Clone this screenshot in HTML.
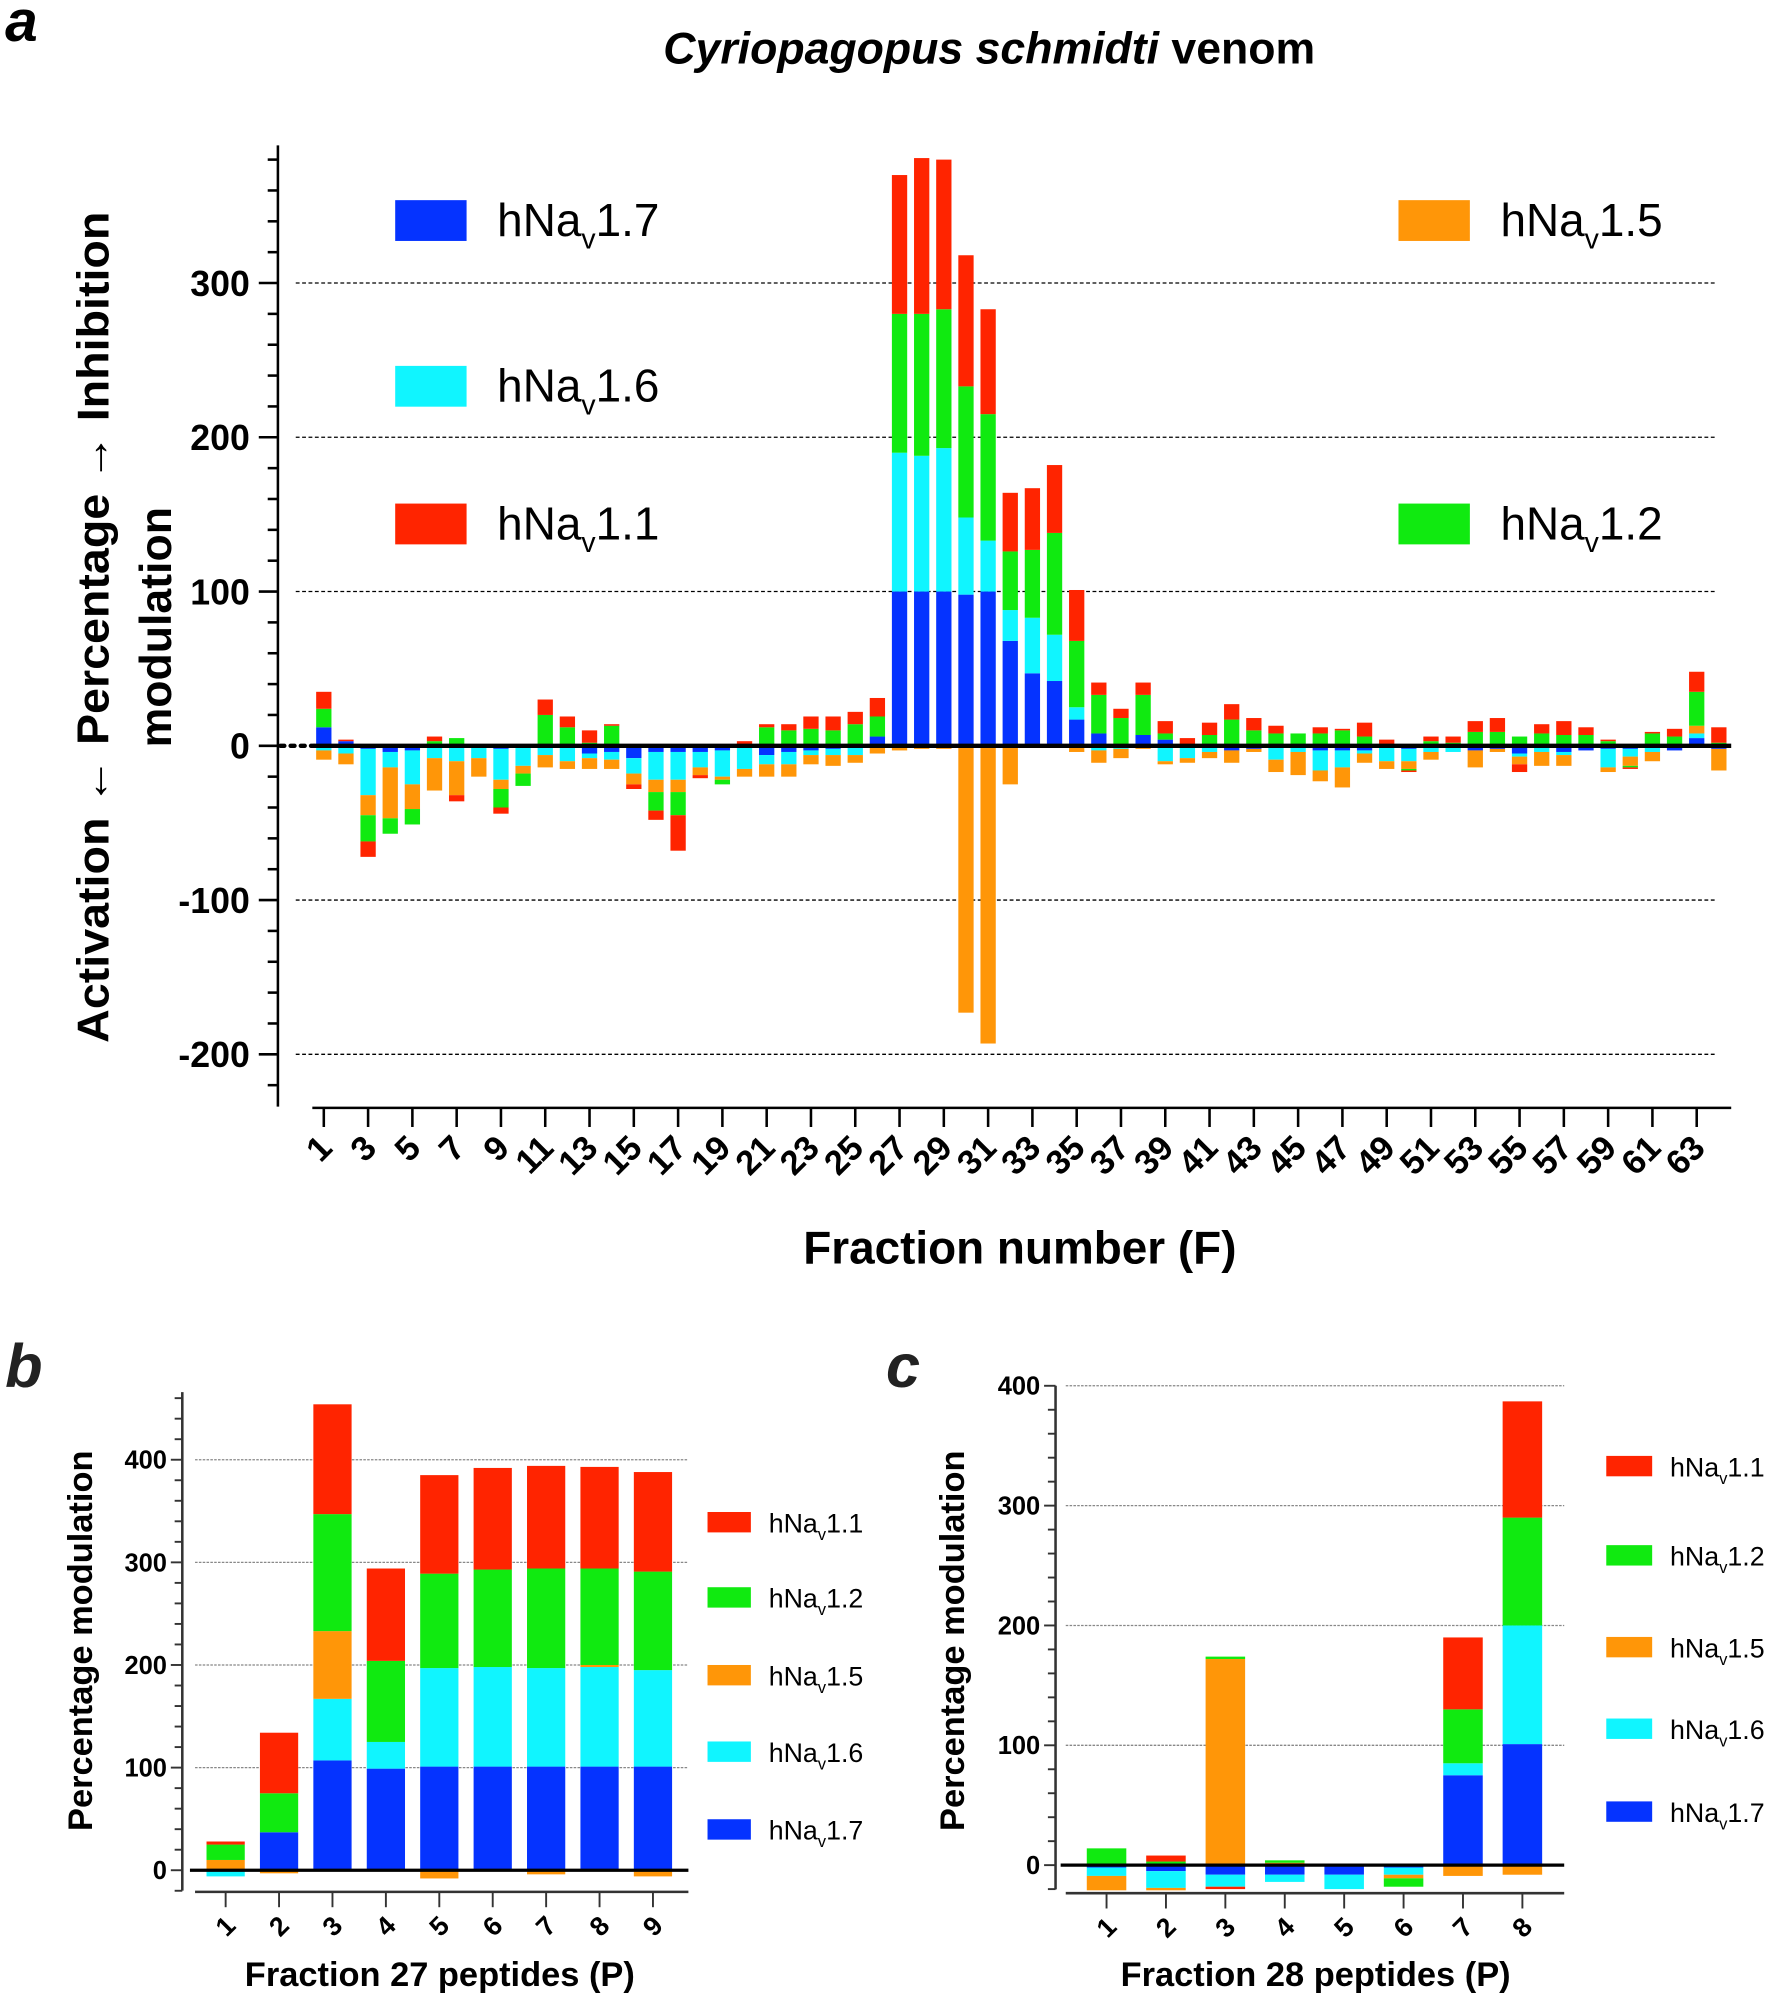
<!DOCTYPE html>
<html><head><meta charset="utf-8"><style>
html,body{margin:0;padding:0;background:#fff;}
svg{display:block;}
text{font-family:"Liberation Sans",Arial,sans-serif;}
</style></head>
<body>
<svg id="fig" width="1772" height="1999" viewBox="0 0 1390 1568" preserveAspectRatio="none" xmlns="http://www.w3.org/2000/svg">
<g id="pa"></g>
<g id="pb"></g>
<g id="pc"></g>
</svg>
<script>
// ---------- data ----------
const seriesNames = ["hNav1.7","hNav1.6","hNav1.5","hNav1.2","hNav1.1"];
const seriesColors = ["#0533ff","#10f5ff","#ff9608","#10ea10","#ff2400"];
// Panel a: fractions 1..64
const fractionsA = Array.from({length:64},(_,i)=>i+1);
const a17 = [12,3,-2,-4,-3,0,0,0,-2,0,0,0,-5,-4,-8,-4,-4,-4,-3,0,-6,-4,-3,-2,0,6,100,100,100,98,100,68,47,42,17,8,1,7,4,1,-1,-3,-2,0,-1,-3,-3,-3,0,-2,0,0,-3,-2,-5,0,-4,-3,-2,-2,0,-3,5,-2];
const a16 = [-3,-5,-30,-10,-22,-8,-10,-8,-20,-13,-6,-10,-3,-5,-10,-18,-18,-10,-17,-15,-6,-8,-3,-4,-6,-1,90,88,93,50,33,20,36,30,8,-3,-2,0,-10,-8,-3,0,0,-9,-3,-13,-11,-2,-10,-8,-4,-4,0,0,-2,-4,-2,0,-12,-5,-4,0,3,0];
const a15 = [-6,-7,-13,-33,-16,-21,-22,-12,-6,-5,-8,-5,-7,-6,-7,-8,-8,-5,-2,-5,-8,-8,-6,-7,-5,-4,-3,-2,-2,-173,-193,-25,0,0,-4,-8,-6,-2,-2,-3,-4,-8,-2,-8,-15,-7,-13,-6,-5,-5,-5,0,-11,-2,-5,-9,-7,0,-3,-6,-6,0,5,-14];
const a12 = [12,0,-17,-10,-10,3,5,0,-12,-8,20,12,2,13,0,-12,-15,0,-3,1,12,10,11,10,14,13,90,92,90,85,82,38,44,66,43,25,17,26,4,0,7,17,10,8,8,8,10,6,0,-1,3,2,9,9,6,8,7,7,3,-1,8,6,22,2];
const a11 = [11,1,-10,0,1,3,-4,0,-4,0,10,7,8,1,-3,-6,-23,-2,0,2,2,4,8,9,8,12,90,101,97,85,68,38,40,44,33,8,6,8,8,4,8,10,8,5,0,4,1,9,4,-1,3,4,7,9,-5,6,9,5,1,-1,1,5,13,10];
// Panel b: fraction 27 peptides
const catsB = ["1","2","3","4","5","6","7","8","9"];
const b17 = [0,37,107,99,101,101,101,101,101];
const b16 = [-6,0,60,26,96,97,96,97,94];
const b15 = [10,-3,66,0,-8,0,-4,2,-6];
const b12 = [15,38,114,79,92,95,97,94,96];
const b11 = [3,59,107,90,96,99,100,99,97];
// Panel c: fraction 28 peptides
const catsC = ["1","2","3","4","5","6","7","8"];
const c17 = [-2,-5,-8,-8,-8,-2,75,101];
const c16 = [-7,-14,-10,-6,-12,-6,10,99];
const c15 = [-12,-2,172,2,0,-3,-9,-8];
const c12 = [14,3,2,2,0,-7,45,90];
const c11 = [0,5,-2,0,0,0,60,97];
// ticks
const ticksA = [-200,-100,0,100,200,300];
const ticksBC = [0,100,200,300,400];

const NS="http://www.w3.org/2000/svg";
function el(parent,tag,attrs,txt){const e=document.createElementNS(NS,tag);for(const k in attrs)e.setAttribute(k,attrs[k]);if(txt!==undefined)e.textContent=txt;parent.appendChild(e);return e;}
function navLabel(parent,x,y,size,name,weight){
  const t=el(parent,"text",{x:x,y:y,"font-size":size,"font-weight":weight||"normal",fill:"#000"});
  const v=name.replace("hNav","");
  el(t,"tspan",{},"hNa");
  el(t,"tspan",{"font-size":size*0.62,dy:size*0.28},"v");
  el(t,"tspan",{dy:-size*0.28},v);
  return t;
}
function stackBars(g,cats,series,xf,yf,w,nm){
  cats.forEach((c,i)=>{
    let pos=0,neg=0;
    series.forEach((s,k)=>{
      const v=s[i]; if(!v) return;
      let y0,y1;
      if(v>0){y0=pos;y1=pos+v;pos=y1;} else {y0=neg;y1=neg+v;neg=y1;}
      const r=el(g,"rect",{x:xf(i)-w/2,y:Math.min(yf(y0),yf(y1)),width:w,height:Math.abs(yf(y0)-yf(y1)),fill:seriesColors[k]});
      
      
    });
  });
}

// ---------- Panel a ----------
(function(){
  const g=document.getElementById("pa");
  const y0=585, k=1.21;
  const yA=v=>y0-v*k;
  const xA=i=>254+i*17.37;
  el(g,"text",{x:4,y:32,"font-size":46,"font-weight":"bold","font-style":"italic",},"a");
  const t=el(g,"text",{x:776,y:50,"font-size":35,"font-weight":"bold","text-anchor":"middle",});
  el(t,"tspan",{"font-style":"italic"},"Cyriopagopus schmidti");
  el(t,"tspan",{}," venom");
  // gridlines
  [300,200,100,-100,-200].forEach(v=>{
    const l=el(g,"line",{x1:232,x2:1346,y1:yA(v),y2:yA(v),stroke:"#000","stroke-width":1,"stroke-dasharray":"3,2"});
    
    
  });
  const bars=el(g,"g",{});
  stackBars(bars,fractionsA,[a17,a16,a15,a12,a11],xA,yA,12,"a");
  // zero line
  el(g,"line",{x1:246,x2:1358,y1:y0,y2:y0,stroke:"#000","stroke-width":3.5,});
  el(g,"line",{x1:220,x2:246,y1:y0,y2:y0,stroke:"#000","stroke-width":3.5,"stroke-dasharray":"3,5","stroke-linecap":"round",});
  // y axis
  el(g,"line",{x1:218,x2:218,y1:114,y2:868,stroke:"#000","stroke-width":2,});
  for(let v=-220;v<=380;v+=20){
    const major=v%100===0;
    el(g,"line",{x1:major?203:210,x2:218,y1:yA(v),y2:yA(v),stroke:"#000","stroke-width":2});
  }
  ticksA.forEach(v=>{
    const tl=el(g,"text",{x:196,y:yA(v)+10,"font-size":28,"font-weight":"bold","text-anchor":"end"},String(v));
    
    
  });
  // x axis
  el(g,"line",{x1:245,x2:1358,y1:869,y2:869,stroke:"#000","stroke-width":2,});
  fractionsA.forEach((f,i)=>{
    if(f%2===0) return;
    el(g,"line",{x1:xA(i),x2:xA(i),y1:869,y2:884,stroke:"#000","stroke-width":2});
    const tl=el(g,"text",{x:xA(i)+8,y:902,"font-size":27,"font-weight":"bold","text-anchor":"end",transform:`rotate(-45 ${xA(i)+8} 902)`},String(f));
    
    
  });
  el(g,"text",{x:800,y:991,"font-size":36,"font-weight":"bold","text-anchor":"middle",},"Fraction number (F)");
  el(g,"text",{x:0,y:0,"font-size":35,"font-weight":"bold","text-anchor":"middle",transform:"translate(85 492) rotate(-90)",textLength:652,lengthAdjust:"spacingAndGlyphs",},"Activation \u2190 Percentage \u2192 Inhibition");
  el(g,"text",{x:0,y:0,"font-size":35,"font-weight":"bold","text-anchor":"middle",transform:"translate(134 492) rotate(-90)",},"modulation");
  // legend
  const leg=[[0,310,157],[1,310,287],[4,310,395],[2,1097,157],[3,1097,395]];
  leg.forEach(([s,x,y])=>{
    const lg=el(g,"g",{});
    
    
    el(lg,"rect",{x:x,y:y,width:56,height:32,fill:seriesColors[s]});
    navLabel(lg,x+80,y+28,36,seriesNames[s]);
  });
})();

// ---------- Panels b & c ----------
function smallPanel(id,cfg){
  const g=document.getElementById(id);
  const yf=v=>cfg.y0-v*cfg.k;
  const xf=i=>cfg.x0+i*cfg.step;
  el(g,"text",{x:cfg.letterX,y:1088,"font-size":48,"font-weight":"bold","font-style":"italic","fill":"#222",},cfg.letter);
  ticksBC.slice(1).forEach(v=>{
    const l=el(g,"line",{x1:cfg.gx1,x2:cfg.gx2,y1:yf(v),y2:yf(v),stroke:"#888","stroke-width":1,"stroke-dasharray":"2,1"});
    
    
  });
  const bars=el(g,"g",{});
  stackBars(bars,cfg.cats,cfg.series,xf,yf,cfg.bw,cfg.letter);
  el(g,"line",{x1:cfg.gx1-4,x2:cfg.gx2,y1:cfg.y0,y2:cfg.y0,stroke:"#000","stroke-width":2.5});
  el(g,"line",{x1:cfg.ax,x2:cfg.ax,y1:cfg.yTop,y2:cfg.yBot,stroke:"#333","stroke-width":2,});
  for(let v=-20;v<=cfg.vmax;v+=20){
    const major=v%100===0;
    el(g,"line",{x1:cfg.ax-(major?9:6),x2:cfg.ax,y1:yf(v),y2:yf(v),stroke:"#333","stroke-width":1.5});
  }
  ticksBC.forEach(v=>{
    const tl=el(g,"text",{x:cfg.ax-12,y:yf(v)+7,"font-size":20,"font-weight":"bold","text-anchor":"end"},String(v));
    
    
  });
  el(g,"line",{x1:cfg.gx1,x2:cfg.gx2,y1:cfg.xAxisY,y2:cfg.xAxisY,stroke:"#333","stroke-width":2,});
  cfg.cats.forEach((c,i)=>{
    el(g,"line",{x1:xf(i),x2:xf(i),y1:cfg.xAxisY,y2:cfg.xAxisY+12,stroke:"#333","stroke-width":1.5});
    const tl=el(g,"text",{x:xf(i),y:cfg.xAxisY+34,"font-size":21,"font-weight":"bold","text-anchor":"middle",transform:`rotate(-45 ${xf(i)} ${cfg.xAxisY+27})`},c);
    
    
  });
  el(g,"text",{x:cfg.xtX,y:1558,"font-size":27,"font-weight":"bold","text-anchor":"middle",},cfg.xtitle);
  el(g,"text",{x:0,y:0,"font-size":27,"font-weight":"bold","text-anchor":"middle",transform:`translate(${cfg.ytX} 1287) rotate(-90)`,},"Percentage modulation");
  cfg.legend.forEach(([s,y])=>{
    const lg=el(g,"g",{});
    
    
    el(lg,"rect",{x:cfg.lx,y:y-8,width:cfg.lw,height:16,fill:seriesColors[s]});
    navLabel(lg,cfg.lx+cfg.lw+14,y+8,21,seriesNames[s]);
  });
}
smallPanel("pb",{letter:"b",letterX:4,cats:catsB,series:[b17,b16,b15,b12,b11],y0:1467,k:0.805,x0:177,step:41.9,bw:30,
  gx1:153,gx2:540,ax:143,yTop:1092,yBot:1483,vmax:460,xAxisY:1484,xtX:345,ytX:72,xtitle:"Fraction 27 peptides (P)",
  lx:555,lw:34,legend:[[4,1194],[3,1253],[2,1314],[1,1374],[0,1435]]});
smallPanel("pc",{letter:"c",letterX:695,cats:catsC,series:[c17,c16,c15,c12,c11],y0:1463,k:0.94,x0:868,step:46.6,bw:31,
  gx1:836,gx2:1227,ax:828,yTop:1087,yBot:1482,vmax:400,xAxisY:1485,xtX:1032,ytX:756,xtitle:"Fraction 28 peptides (P)",
  lx:1260,lw:36,legend:[[4,1150],[3,1220],[2,1292],[1,1356],[0,1421]]});
</script>
</body></html>
